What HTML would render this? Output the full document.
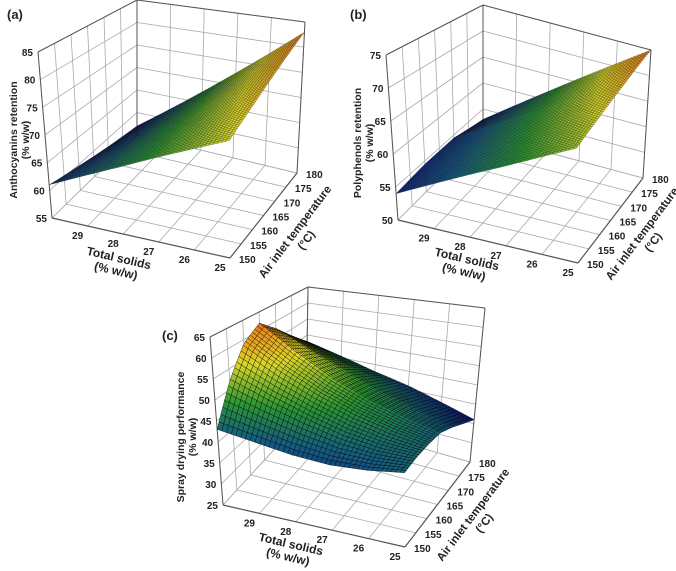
<!DOCTYPE html>
<html><head><meta charset="utf-8"><style>
html,body{margin:0;padding:0;background:#fff}
svg{display:block}
text{font-family:"Liberation Sans",sans-serif;font-weight:bold;fill:#222}
</style></head><body>
<svg id="fig" width="676" height="571" viewBox="0 0 676 571" xmlns="http://www.w3.org/2000/svg"></svg>
<script>
// ---- data ----
const tsTicks = [30, 29, 28, 27, 26, 25];
const tsLabels = [29, 28, 27, 26, 25];
const tempTicks = [150, 155, 160, 165, 170, 175, 180];
const tempGridA = [150, 160, 170, 180];
const zTicksA = [55, 60, 65, 70, 75, 80, 85];
const zTicksB = [50, 55, 60, 65, 70, 75];
const zTicksC = [25, 30, 35, 40, 45, 50, 55, 60, 65];
// rows: total solids 30..25 ; cols: temperature tempGridA
const valuesA = [
  [61.0, 59.7, 58.3, 57.0],
  [64.1, 63.5, 62.8, 62.2],
  [67.2, 67.3, 67.4, 67.4],
  [70.4, 71.1, 71.9, 72.6],
  [73.5, 74.9, 76.4, 77.8],
  [76.6, 78.7, 80.9, 83.0]
];
const valuesB = [
  [54.0, 54.5, 54.5, 53.0],
  [56.7, 57.5, 58.0, 57.4],
  [59.4, 60.5, 61.5, 61.8],
  [62.0, 63.5, 65.0, 66.2],
  [64.7, 66.5, 68.5, 70.6],
  [67.4, 69.5, 72.0, 75.0]
];
// cols: tempTicks
const valuesC = [
  [43, 52, 59, 62, 58, 53, 48],
  [42, 49, 54, 56, 53.5, 49.5, 45.5],
  [41, 46.5, 50, 51, 49.5, 46.5, 43],
  [40.7, 44.5, 47, 47.5, 46, 43.5, 41],
  [41.5, 43.5, 45, 45, 43.5, 41, 38.5],
  [43, 43.5, 43.5, 43, 41, 38.5, 36]
];

const NS = "http://www.w3.org/2000/svg";
const svg = document.getElementById('fig');
function el(tag, attrs, parent) {
  const e = document.createElementNS(NS, tag);
  for (const k in attrs) e.setAttribute(k, attrs[k]);
  (parent || svg).appendChild(e);
  return e;
}
function lerp(a, b, t) { return [a[0] + (b[0] - a[0]) * t, a[1] + (b[1] - a[1]) * t]; }
function bil(P, u, w) { return lerp(lerp(P[0], P[1], u), lerp(P[3], P[2], u), w); }
function cmap(t) {
  const stops = [[0, [10, 10, 120]], [0.25, [20, 90, 130]], [0.45, [40, 150, 50]], [0.7, [220, 215, 40]], [0.88, [235, 140, 30]], [1, [210, 50, 20]]];
  for (let i = 1; i < stops.length; i++) {
    if (t <= stops[i][0]) {
      const a = stops[i - 1], b = stops[i], f = (t - a[0]) / (b[0] - a[0]);
      return 'rgb(' + [0, 1, 2].map(k => Math.round(a[1][k] + (b[1][k] - a[1][k]) * f)).join(',') + ')';
    }
  }
  return 'rgb(210,50,20)';
}

function panel(cfg) {
  const g = el('g', {});
  
  
  const zmin = cfg.zTicks[0], zmax = cfg.zTicks[cfg.zTicks.length - 1];
  const uOf = ts => (30 - ts) / 5;
  const wOf = T => (T - 150) / 30;
  const P = (u, w, z) => {
    const gr = bil(cfg.ground, u, w), tp = bil(cfg.top, u, w);
    return lerp(gr, tp, (z - zmin) / (zmax - zmin));
  };
  const line = (p, q, col, sw, nm) => {
    const l = el('line', { x1: p[0], y1: p[1], x2: q[0], y2: q[1], stroke: col, 'stroke-width': sw }, g);
    
    
  };
  const grid = '#aaa';
  tsTicks.forEach(ts => line(P(uOf(ts), 1, zmin), P(uOf(ts), 1, zmax), grid, 0.8, 'back-wall-gridline'));
  cfg.zTicks.forEach(z => {
    line(P(0, 1, z), P(1, 1, z), grid, 0.8, 'back-wall-gridline');
    line(P(0, 0, z), P(0, 1, z), grid, 0.8, 'side-wall-gridline');
  });
  tempTicks.forEach(T => line(P(0, wOf(T), zmin), P(0, wOf(T), zmax), grid, 0.8, 'side-wall-gridline'));
  tsTicks.forEach(ts => line(P(uOf(ts), 0, zmin), P(uOf(ts), 1, zmin), grid, 0.8, 'floor-gridline'));
  tempTicks.forEach(T => line(P(0, wOf(T), zmin), P(1, wOf(T), zmin), grid, 0.8, 'floor-gridline'));
  const be = '#555';
  line(P(0, 0, zmin), P(0, 0, zmax), be, 1, 'z-axis-line');
  line(P(0, 1, zmin), P(0, 1, zmax), be, 1, 'box-edge');
  line(P(1, 1, zmin), P(1, 1, zmax), be, 1, 'box-edge');
  line(P(0, 0, zmax), P(0, 1, zmax), be, 1, 'box-edge');
  line(P(0, 1, zmax), P(1, 1, zmax), be, 1, 'box-edge');
  line(P(0, 0, zmin), P(1, 0, zmin), be, 1.2, 'total-solids-axis-line');
  line(P(1, 0, zmin), P(1, 1, zmin), be, 1.2, 'temperature-axis-line');

  const V = cfg.values, nr = V.length - 1, nc = V[0].length - 1;
  const vmin = cfg.cRange[0], vmax = cfg.cRange[1];
  const N = cfg.mesh;
  const val = (a, b) => {
    const ri = Math.min(Math.floor(a * nr), nr - 1), ci = Math.min(Math.floor(b * nc), nc - 1);
    const fr = a * nr - ri, fc = b * nc - ci;
    const v0 = V[ri][ci] + (V[ri][ci + 1] - V[ri][ci]) * fc;
    const v1 = V[ri + 1][ci] + (V[ri + 1][ci + 1] - V[ri + 1][ci]) * fc;
    return v0 + (v1 - v0) * fr;
  };
  const wFor = b => wOf(cfg.tCols[0] + (cfg.tCols[cfg.tCols.length - 1] - cfg.tCols[0]) * b);
  const cells = [];
  for (let i = 0; i < N; i++) for (let j = 0; j < N; j++) cells.push([i, j]);
  cells.sort((p, q) => ((q[1] - q[0]) - (p[1] - p[0])));
  const sg = el('g', {}, g);
  
  
  cells.forEach(([i, j]) => {
    const a0 = i / N, a1 = (i + 1) / N, b0 = j / N, b1 = (j + 1) / N;
    const pts = [[a0, b0], [a1, b0], [a1, b1], [a0, b1]].map(([a, b]) => P(a, wFor(b), val(a, b)));
    const vm = val((a0 + a1) / 2, (b0 + b1) / 2);
    const t = Math.max(0, Math.min(1, (vm - vmin) / (vmax - vmin)));
    const c = el('polygon', {
      points: pts.map(p => p[0].toFixed(1) + ',' + p[1].toFixed(1)).join(' '),
      fill: cmap(t), stroke: cfg.meshColor, 'stroke-width': cfg.meshWidth
    }, sg);
    
    
  });

  const tx = (x, y, s, anchor, nm, extra) => {
    const t = el('text', Object.assign({ x: x, y: y, 'font-size': 10, 'text-anchor': anchor }, extra || {}), g);
    t.textContent = s;
    
    
    return t;
  };
  cfg.zTicks.forEach(z => { const p = P(0, 0, z); tx(p[0] - 5, p[1] + 4, z, 'end', 'z-tick-label'); });
  tsLabels.forEach(ts => { const p = P(uOf(ts), 0, zmin); tx(p[0] - 10, p[1] + 13, ts, 'middle', 'total-solids-tick-label'); });
  tempTicks.forEach(T => { const p = P(1, wOf(T), zmin); tx(p[0] + 9, p[1] + 5, T, 'start', 'temperature-tick-label'); });

  const zt = el('text', { x: 0, y: 0, 'font-size': 10.5, 'text-anchor': 'middle', transform: 'translate(' + cfg.zTitle[0] + ',' + cfg.zTitle[1] + ') rotate(-90)' }, g);
  
  
  el('tspan', { x: 0, dy: 0 }, zt).textContent = cfg.zLabel;
  el('tspan', { x: 0, dy: 12 }, zt).textContent = '(% w/w)';

  const tt = el('text', { x: 0, y: 0, 'font-size': 12, 'text-anchor': 'middle', transform: 'translate(' + cfg.tsTitle[0] + ',' + cfg.tsTitle[1] + ') rotate(13)' }, g);
  
  
  el('tspan', { x: 0, dy: 0 }, tt).textContent = 'Total solids';
  el('tspan', { x: 0, dy: 13 }, tt).textContent = '(% w/w)';

  const at = el('text', { x: 0, y: 0, 'font-size': 11.5, 'text-anchor': 'middle', transform: 'translate(' + cfg.tTitle[0] + ',' + cfg.tTitle[1] + ') rotate(-53)' }, g);
  
  
  el('tspan', { x: 0, dy: 0 }, at).textContent = 'Air inlet temperature';
  el('tspan', { x: 0, dy: 14 }, at).textContent = '(\u00B0C)';

  const pl = tx(cfg.label[0], cfg.label[1], cfg.labelText, 'start', 'panel-label', { 'font-size': 13 });
  pl.setAttribute('fill', '#000');
}

panel({
  name: 'panel-a-anthocyanins', labelText: '(a)', label: [7, 19],
  ground: [[52, 218], [230, 258], [297, 173], [137, 135]],
  top: [[38, 52], [229, 95], [305, 22], [137, 0]],
  zTicks: zTicksA, values: valuesA, tCols: tempGridA, cRange: [56, 86], mesh: 45, meshColor: 'rgba(0,0,0,0.55)', meshWidth: 0.35,
  zLabel: 'Anthocyanins retention', zTitle: [17, 140], tsTitle: [118, 262], tTitle: [298, 234]
});
panel({
  name: 'panel-b-polyphenols', labelText: '(b)', label: [350, 19],
  ground: [[398, 220], [578, 263], [643, 178], [483, 135]],
  top: [[386, 55], [576, 98], [651, 50], [483, 5]],
  zTicks: zTicksB, values: valuesB, tCols: tempGridA, cRange: [52, 77], mesh: 45, meshColor: 'rgba(0,0,0,0.55)', meshWidth: 0.35,
  zLabel: 'Polyphenols retention', zTitle: [361, 143], tsTitle: [466, 263], tTitle: [645, 236]
});
panel({
  name: 'panel-c-spray-drying', labelText: '(c)', label: [162, 340],
  ground: [[223, 505], [405, 547], [470, 462], [306, 415]],
  top: [[210, 337], [404, 382], [485, 308], [308, 287]],
  zTicks: zTicksC, values: valuesC, tCols: tempTicks, cRange: [35, 64], mesh: 40, meshColor: 'rgba(0,0,0,0.75)', meshWidth: 0.5,
  zLabel: 'Spray drying performance', zTitle: [184, 437], tsTitle: [290, 548], tTitle: [476, 517]
});
</script>
</body></html>
